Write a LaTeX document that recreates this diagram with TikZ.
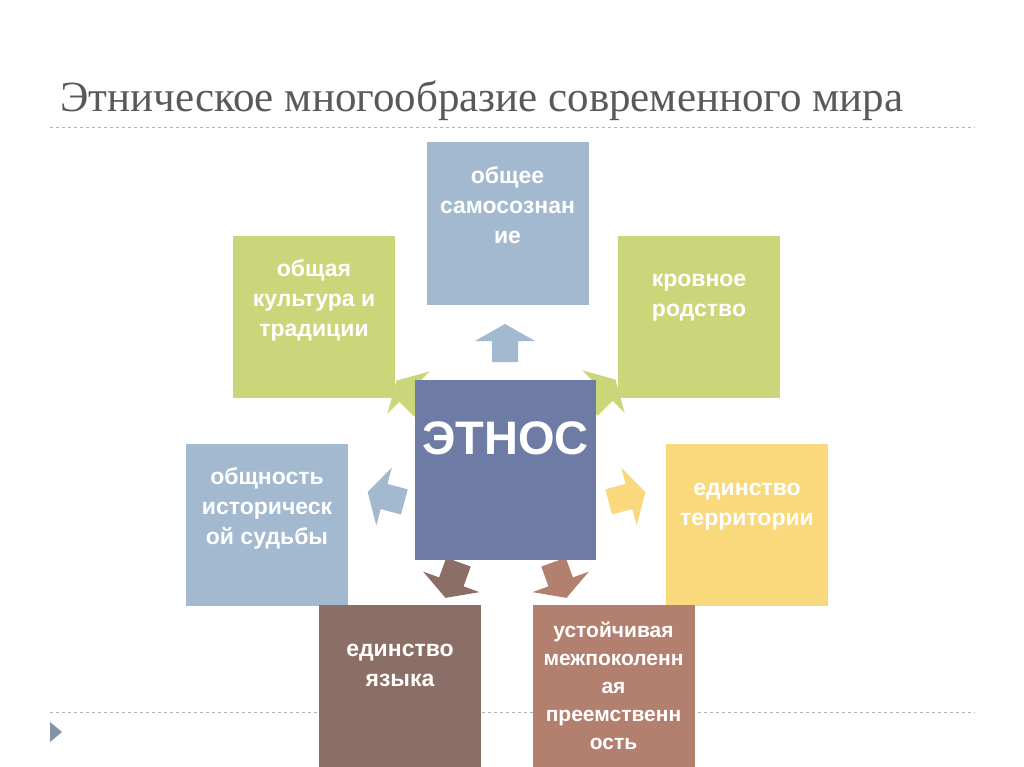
\documentclass[tikz,border=0pt]{standalone}
\usepackage{fontspec}
\setmainfont{Liberation Sans}
\newfontfamily\titlefont{Liberation Serif}
\begin{document}
\begin{tikzpicture}[x=1pt,y=-1pt,
  box/.style={draw=none,inner sep=0pt,minimum width=162pt,minimum height=162pt},
  btxt/.style={text=white,font=\fontsize{23}{30}\selectfont\bfseries,align=center,anchor=north,inner sep=0pt},
  barrow/.pic={\fill[#1] (-19,-13)--(2,-13)--(2,-30)--(19,0)--(2,30)--(2,13)--(-19,13)--cycle;}]
\definecolor{cblue}{HTML}{A3B9CF}
\definecolor{cgreen}{HTML}{CBD67A}
\definecolor{cmain}{HTML}{6D7BA5}
\definecolor{cyel}{HTML}{F9D97C}
\definecolor{cbrown}{HTML}{8B6F66}
\definecolor{crust}{HTML}{B3806F}
\useasboundingbox (0,0) rectangle (1024,767);
\fill[white] (0,0) rectangle (1024,767);
\node[anchor=base west,inner sep=0pt,text=black!65,font=\titlefont\fontsize{43}{43}\selectfont] (title) at (60,112) {Этническое многообразие современного мира};
\coordinate (l1a) at (50,127); \coordinate (l1b) at (975,127);
\coordinate (l2a) at (50,712); \coordinate (l2b) at (975,712);
\draw[black!30,dashed,line width=0.8pt] (l1a)--(l1b);
\draw[black!30,dashed,line width=0.8pt] (l2a)--(l2b);
\fill[cblue!80!black] (50,722)--(62,732)--(50,742)--cycle;
% arrows
\pic[rotate=90] at (505,343) {barrow=cblue};
\pic[rotate=135] at (410,394) {barrow=cgreen};
\pic[rotate=45] at (602,393) {barrow=cgreen};
\pic[rotate=165] at (386,497) {barrow=cblue};
\pic[rotate=15] at (627,497) {barrow=cyel};
\pic[rotate=-110] at (452,580) {barrow=cbrown};
\pic[rotate=-70] at (560,580) {barrow=crust};
% boxes
\node[box,fill=cblue] (top) at (507.5,223.5) {};
\node[box,fill=cgreen] (cult) at (314,316.5) {};
\node[box,fill=cgreen] (kin) at (699,316.5) {};
\node[box,fill=cblue] (hist) at (267,525) {};
\node[box,fill=cyel] (terr) at (747,525) {};
\node[box,fill=cbrown] (lang) at (400,686) {};
\node[box,fill=crust] (cont) at (613.5,686) {};
\node[box,fill=cmain,minimum width=181pt,minimum height=180pt] (eth) at (505.5,470) {};
% texts
\node[btxt] at ([yshift=-24pt]top.north) {общее\\самосознан\\ие};
\node[btxt] at ([yshift=-24pt]cult.north) {общая\\культура и\\традиции};
\node[btxt] at ([yshift=-39pt]kin.north) {кровное\\родство};
\node[btxt] at ([yshift=-24pt]hist.north) {общность\\историческ\\ой судьбы};
\node[btxt] at ([yshift=-39pt]terr.north) {единство\\территории};
\node[btxt] at ([yshift=-39pt]lang.north) {единство\\языка};
\node[btxt,font=\fontsize{21}{28}\selectfont\bfseries] at ([yshift=-17pt]cont.north) {устойчивая\\межпоколенн\\ая\\преемственн\\ость};
\node[btxt,font=\fontsize{47}{47}\selectfont\bfseries] at ([yshift=-42pt]eth.north) {ЭТНОС};
\end{tikzpicture}
\end{document}
